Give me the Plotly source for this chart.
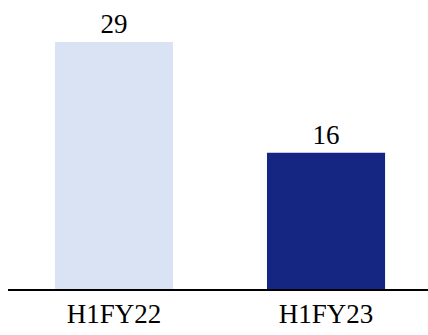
import plotly.graph_objects as go

# Half-year periods and their values
periods = ["H1FY22", "H1FY23"]
values = [29, 16]
bar_colors = ["#DAE3F3", "#142682"]

FONT = "Liberation Serif"

fig = go.Figure(
    go.Bar(
        x=periods,
        y=values,
        marker=dict(color=bar_colors, line=dict(width=0)),
        text=[str(v) for v in values],
        textposition="outside",
        cliponaxis=False,
        textfont=dict(family=FONT, size=27, color="#000000"),
        hoverinfo="skip",
    )
)

fig.update_layout(
    width=428,
    height=335,
    margin=dict(l=8, r=0, t=0, b=46),
    paper_bgcolor="#FFFFFF",
    plot_bgcolor="#FFFFFF",
    bargap=0.443,
    showlegend=False,
    font=dict(family=FONT, size=27, color="#000000"),
    xaxis=dict(
        range=[-0.5, 1.481],
        showline=True,
        linecolor="#000000",
        linewidth=2,
        showgrid=False,
        zeroline=False,
        ticks="",
        ticklabelstandoff=0,
        tickfont=dict(family=FONT, size=27, color="#000000"),
        fixedrange=True,
    ),
    yaxis=dict(
        range=[0, 33.93],
        visible=False,
        showgrid=False,
        zeroline=False,
        fixedrange=True,
    ),
)

fig.write_html("out.html")
